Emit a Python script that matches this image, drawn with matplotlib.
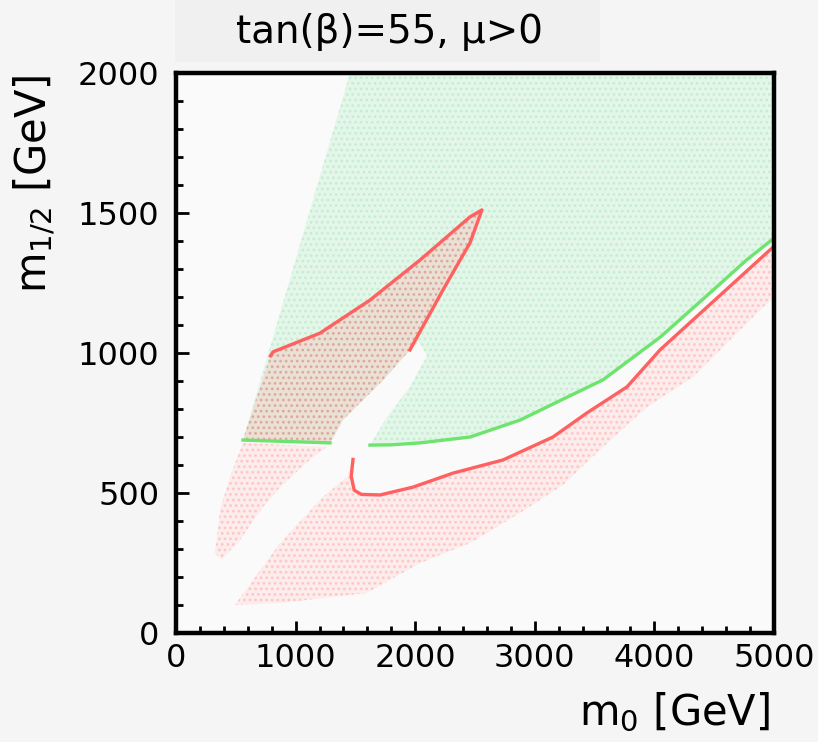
#!/usr/bin/env python3
"""
Allowed regions in the (m0, m1/2) plane for tan(beta)=55, mu>0.
Green: upper allowed band, pink: lower bands, brown blob: overlap region.
Output: out.png
"""

import numpy as np
import matplotlib
matplotlib.use("Agg")
import matplotlib.pyplot as plt
from matplotlib.patches import Polygon, Rectangle

# --- region boundaries (GeV) ---

# left edge of the green region (top -> bottom)
green_left_m0 = [1455, 560]
green_left_m12 = [2000, 689]

# green boundary line, left piece (under the blob)
green_low_left_m0 = [560, 1288]
green_low_left_m12 = [689, 679]

# green boundary line, right piece
green_curve_m0 = [1622, 1800, 2040, 2460, 2880, 3250, 3570, 4050, 4500, 4770, 5000]
green_curve_m12 = [671, 672, 679, 700, 761, 838, 904, 1057, 1228, 1332, 1410]

# empty channel between blob and green region
channel_left_m0 = [1396, 1731, 1956]
channel_left_m12 = [761, 903, 1011]
channel_right_m0 = [2030, 2100, 1956, 1764, 1622]
channel_right_m12 = [1040, 990, 880, 770, 671]

# blob outline (brown overlap region), counter-clockwise from bottom left
blob_m0 = [560, 786, 811, 1204, 1622, 2040, 2458, 2558, 2458, 2232, 1956, 1731, 1396, 1288]
blob_m12 = [689, 986, 1004, 1071, 1189, 1332, 1486, 1511, 1393, 1225, 1011, 903, 761, 679]

# red contour on the blob
blob_red_m0 = [790, 811, 1204, 1622, 2040, 2458, 2558, 2458, 2232, 1956]
blob_red_m12 = [990, 1004, 1071, 1189, 1332, 1486, 1511, 1393, 1225, 1011]

# small pink wedge under the blob
wedge_m0 = [560, 1263, 1145, 870, 727, 535, 380, 326, 368, 451]
wedge_m12 = [679, 664, 629, 521, 450, 332, 262, 286, 439, 557]

# lower pink band: red upper edge
red_curve_m0 = [1480, 1465, 1490, 1550, 1706, 1982, 2316, 2734, 3152, 3436, 3771, 4047, 4500, 4966, 5000]
red_curve_m12 = [620, 560, 510, 495, 493, 521, 571, 618, 700, 786, 879, 1011, 1187, 1368, 1380]

# lower pink band: lower edge (right -> left) and upper-left edge
band_low_m0 = [5000, 4883, 4323, 3938, 3570, 3236, 2876, 2458, 2040, 1597, 870, 493]
band_low_m12 = [1200, 1153, 914, 807, 664, 529, 429, 321, 250, 143, 107, 100]
band_left_m0 = [870, 1229, 1430]
band_left_m12 = [321, 486, 557]

TITLE = "tan(\u03b2)=55, \u03bc>0"
XLABEL = "m$_{0}$ [GeV]"
YLABEL = "m$_{1/2}$ [GeV]"

GREEN_LINE = "#6ee46e"
RED_LINE = "#ff6060"


def poly(ax, m0, m12, face, hatch, hcolor, z):
    p = Polygon(np.column_stack([m0, m12]), closed=True, facecolor=face,
                edgecolor=hcolor, hatch=hatch, linewidth=0, zorder=z)
    ax.add_patch(p)


def main():
    plt.rcParams["font.family"] = "DejaVu Sans"
    plt.rcParams["hatch.linewidth"] = 1.2

    fig = plt.figure(figsize=(8.18, 7.42), dpi=100, facecolor="#f5f5f5")
    # faint box behind the title
    fig.patches.append(Rectangle((175 / 818, 1 - 62 / 742), 425 / 818, 62 / 742,
                                 transform=fig.transFigure, facecolor="#f0f0f0",
                                 edgecolor="none", zorder=0))
    ax = fig.add_axes([176 / 818, 1 - 633 / 742, 598 / 818, 560 / 742])
    ax.set_facecolor("#fafafa")

    # green region with the empty channel cut out
    g_m0 = (green_low_left_m0 + channel_left_m0 + channel_right_m0
            + green_curve_m0[1:] + [5000] + green_left_m0)
    g_m12 = (green_low_left_m12 + channel_left_m12 + channel_right_m12
             + green_curve_m12[1:] + [2000] + green_left_m12)
    poly(ax, g_m0, g_m12, "#e4f6e9", "...", "#c4efcf", 1)

    # pink bands
    poly(ax, wedge_m0, wedge_m12, "#fcecec", "...", "#ffc6c6", 2)
    poly(ax, red_curve_m0 + band_low_m0 + band_left_m0,
         red_curve_m12 + band_low_m12 + band_left_m12, "#fcecec", "...", "#ffc6c6", 2)

    # overlap blob
    poly(ax, blob_m0, blob_m12, "#ebe0d5", "...", "#dcaa9c", 3)

    # contour lines
    ax.plot(blob_red_m0, blob_red_m12, color=RED_LINE, lw=2.4, zorder=4)
    ax.plot(red_curve_m0, red_curve_m12, color=RED_LINE, lw=2.4, zorder=4)
    ax.plot(green_low_left_m0, green_low_left_m12, color=GREEN_LINE, lw=2.4, zorder=4)
    ax.plot(green_curve_m0, green_curve_m12, color=GREEN_LINE, lw=2.4, zorder=4)

    ax.set_xlim(0, 5000)
    ax.set_ylim(0, 2000)
    ax.set_xticks(range(0, 5001, 1000))
    ax.set_yticks(range(0, 2001, 500))
    ax.set_xticks(range(0, 5001, 200), minor=True)
    ax.set_yticks(range(0, 2001, 100), minor=True)
    ax.tick_params(which="both", direction="in", top=False, right=False, width=2,
                   labelsize=23)
    ax.tick_params(which="major", length=9)
    ax.tick_params(which="minor", length=5)
    ax.tick_params(axis="y", pad=12)
    ax.tick_params(axis="x", pad=7)
    for s in ax.spines.values():
        s.set_linewidth(3.2)
        s.set_zorder(10)

    fig.text(390 / 818, 1 - 32 / 742, TITLE, ha="center", va="center", fontsize=28)
    fig.text(770 / 818, 1 - 712 / 742, XLABEL, ha="right", va="center", fontsize=30)
    fig.text(35 / 818, 1 - 75 / 742, YLABEL, ha="center", va="top", rotation=90,
             fontsize=30)

    fig.savefig("out.png", dpi=100, facecolor=fig.get_facecolor())
    plt.close(fig)


if __name__ == "__main__":
    main()
